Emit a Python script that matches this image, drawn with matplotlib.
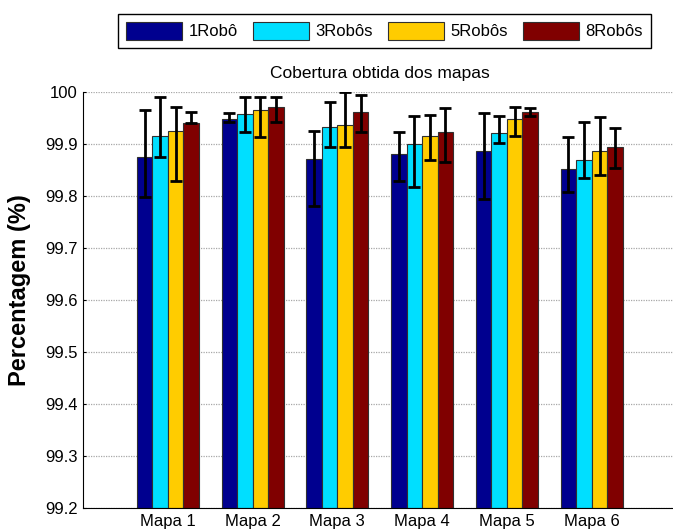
import numpy as np
import matplotlib
matplotlib.use("Agg")
import matplotlib.pyplot as plt

plt.rcParams['font.family'] = ['Liberation Sans', 'DejaVu Sans']

# -----------------------------
# Coverage data (mean, upper / lower end of error bar)
# -----------------------------
maps = ["Mapa 1", "Mapa 2", "Mapa 3", "Mapa 4", "Mapa 5", "Mapa 6"]
series = ["1Robô", "3Robôs", "5Robôs", "8Robôs"]

mean_1 = [99.876, 99.949, 99.871, 99.882, 99.887, 99.853]
mean_3 = [99.915, 99.958, 99.934, 99.900, 99.922, 99.869]
mean_5 = [99.926, 99.965, 99.937, 99.915, 99.949, 99.887]
mean_8 = [99.940, 99.971, 99.963, 99.924, 99.963, 99.894]

hi_1 = [99.966, 99.961, 99.926, 99.924, 99.961, 99.913]
hi_3 = [99.990, 99.990, 99.982, 99.954, 99.954, 99.942]
hi_5 = [99.972, 99.990, 100.000, 99.956, 99.972, 99.953]
hi_8 = [99.963, 99.990, 99.995, 99.969, 99.969, 99.932]

lo_1 = [99.799, 99.942, 99.781, 99.829, 99.795, 99.808]
lo_3 = [99.876, 99.924, 99.895, 99.818, 99.903, 99.834]
lo_5 = [99.829, 99.913, 99.895, 99.869, 99.916, 99.840]
lo_8 = [99.940, 99.942, 99.924, 99.866, 99.954, 99.855]

means = [mean_1, mean_3, mean_5, mean_8]
highs = [hi_1, hi_3, hi_5, hi_8]
lows = [lo_1, lo_3, lo_5, lo_8]
colors = ["#00008F", "#00DFFF", "#FFCC00", "#800000"]

# -----------------------------
# Plot
# -----------------------------
fig = plt.figure(figsize=(6.73, 5.32), dpi=100)
ax = fig.add_axes([0.1233, 0.046, 0.882, 0.7805])

x = np.arange(1, len(maps) + 1)
width = 0.183
base = 99.2

for i, (m, hi, lo, c, name) in enumerate(zip(means, highs, lows, colors, series)):
    pos = x + (i - 1.5) * width
    m = np.array(m)
    ax.bar(pos, m - base, width, bottom=base, color=c, edgecolor="#303030",
           linewidth=0.8, label=name, zorder=2)
    yerr = np.vstack([m - np.array(lo), np.array(hi) - m])
    ax.errorbar(pos, m, yerr=yerr, fmt="none", ecolor="black", elinewidth=2,
                capsize=4.5, capthick=2, zorder=3)

ax.set_xlim(0, 7)
ax.set_ylim(99.2, 100)
ax.set_yticks(np.arange(99.2, 100.01, 0.1))
ax.set_yticklabels(["99.2", "99.3", "99.4", "99.5", "99.6", "99.7", "99.8", "99.9", "100"])
ax.set_xticks(x)
ax.set_xticklabels(maps)
ax.tick_params(axis="both", direction="in", length=2.5, labelsize=12, pad=4)
ax.tick_params(axis="x", length=0, pad=5)

ax.yaxis.grid(True, color="#a8a8a8", linestyle=(0, (1, 1)), linewidth=0.9, zorder=0)
ax.set_axisbelow(True)
for s in ["top", "right"]:
    ax.spines[s].set_visible(False)

ax.set_title("Cobertura obtida dos mapas", fontsize=12.5, pad=10)

# y label placed in figure coordinates, left of the tick labels
fig.text(20 / 673, 1 - 290 / 532, "Percentagem (%)", rotation=90, fontsize=17,
         fontweight="bold", ha="center", va="center")

fig.legend(loc="upper left", bbox_to_anchor=(118 / 673, 1 - 13.5 / 532), ncol=4,
           fontsize=12, frameon=True, fancybox=False, edgecolor="black",
           framealpha=1, handlelength=3.35, handleheight=1.26, handletextpad=0.4,
           columnspacing=0.9, borderpad=0.5, borderaxespad=0)

fig.savefig("out.png", dpi=100)
